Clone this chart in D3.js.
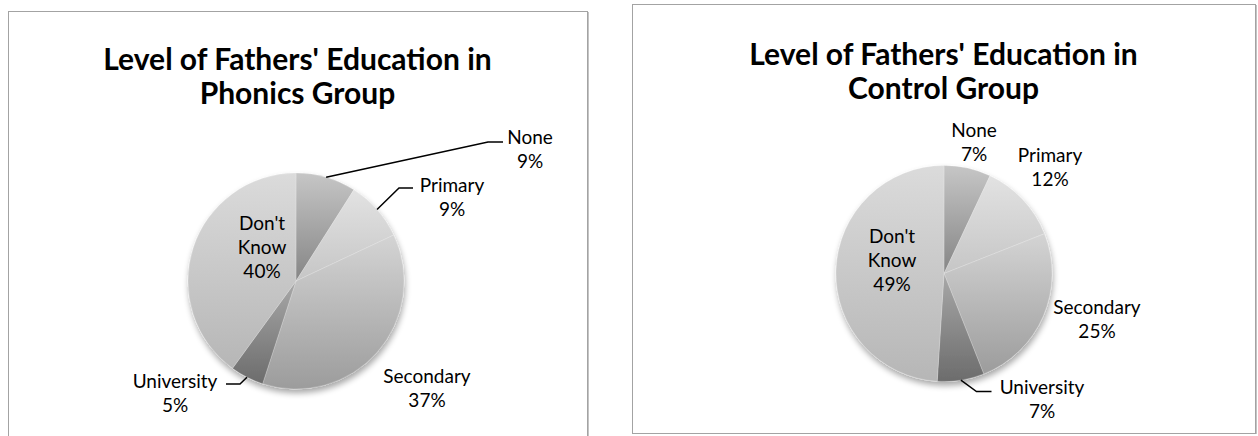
<!DOCTYPE html>
<html>
<head>
<meta charset="utf-8">
<script src="https://cdn.jsdelivr.net/npm/d3@7"></script>
<style>
  html, body { margin: 0; padding: 0; background: #fff; }
  svg { display: block; }
  text { font-family: Lato, "Open Sans", sans-serif; fill: #000; }
</style>
</head>
<body>
<svg id="chart" width="1258" height="436"></svg>
<script>
// ---- data ----
const categories = ["None", "Primary", "Secondary", "University", "Don't Know"];
const phonicsValues = [9, 9, 37, 5, 40];
const controlValues = [7, 12, 25, 7, 49];
const phonicsTitle = ["Level of Fathers' Education in", "Phonics Group"];
const controlTitle = ["Level of Fathers' Education in", "Control Group"];

// ---- styles ----
const gradTop = ["#c6c6c6", "#e2e2e2", "#d4d4d4", "#a8a8a8", "#dbdbdb"];
const gradBot = ["#858585", "#c6c6c6", "#9c9c9c", "#6c6c6c", "#b6b6b6"];

const svg = d3.select("#chart");
const defs = svg.append("defs");

const shadow = defs.append("filter").attr("id", "shadow")
  .attr("x", "-20%").attr("y", "-20%").attr("width", "140%").attr("height", "140%");
shadow.append("feGaussianBlur").attr("in", "SourceAlpha").attr("stdDeviation", 3).attr("result", "b");
shadow.append("feOffset").attr("in", "b").attr("dx", 1).attr("dy", 4).attr("result", "o");
shadow.append("feComponentTransfer").attr("in", "o").attr("result", "s")
  .append("feFuncA").attr("type", "linear").attr("slope", 0.35);
const m = shadow.append("feMerge");
m.append("feMergeNode").attr("in", "s");
m.append("feMergeNode").attr("in", "SourceGraphic");

categories.forEach((c, i) => {
  const g = defs.append("linearGradient").attr("id", "g" + i)
    .attr("x1", 0).attr("y1", 0).attr("x2", 0).attr("y2", 1);
  g.append("stop").attr("offset", "0%").attr("stop-color", gradTop[i]);
  g.append("stop").attr("offset", "100%").attr("stop-color", gradBot[i]);
});

function drawPanel(cfg) {
  const p = svg.append("g");
  // frame
  p.append("rect")
    .attr("x", cfg.frame[0] + 0.5).attr("y", cfg.frame[1] + 0.5)
    .attr("width", cfg.frame[2]).attr("height", cfg.frame[3])
    .attr("fill", "#fff").attr("stroke", "#a3a3a3").attr("stroke-width", 1);
  p.append("line")
    .attr("x1", cfg.frame[0] + cfg.frame[2] + 1.5).attr("x2", cfg.frame[0] + cfg.frame[2] + 1.5)
    .attr("y1", cfg.frame[1] + 1).attr("y2", cfg.frame[1] + cfg.frame[3] + 1)
    .attr("stroke", "#c4c4c4").attr("stroke-width", 1);

  // title
  const tcx = cfg.frame[0] + cfg.frame[2] / 2;
  const t = p.append("text").attr("text-anchor", "middle")
    .style("font-weight", "bold").style("font-size", "30px");
  cfg.title.forEach((line, k) => {
    t.append("tspan").attr("x", tcx).attr("y", cfg.titleY + k * 34).text(line);
  });

  // pie
  const pie = d3.pie().sort(null).startAngle(0).endAngle(2 * Math.PI)(cfg.values);
  const arc = d3.arc().innerRadius(0).outerRadius(cfg.r);
  const pg = p.append("g").attr("transform", `translate(${cfg.cx},${cfg.cy})`);
  const slices = pg.append("g").attr("filter", "url(#shadow)");
  slices.selectAll("path").data(pie).join("path")
    .attr("d", arc)
    .attr("fill", (d, i) => `url(#g${i})`)
    .attr("stroke", "rgba(255,255,255,0.35)")
    .attr("stroke-width", 0.6);

  // labels
  pie.forEach((d, i) => {
    const L = cfg.labels[i];
    const lines = categories[i] === "Don't Know" ? ["Don't", "Know"] : [categories[i]];
    lines.push(d.data + "%");
    const tx = pg.append("text").attr("text-anchor", "middle").style("font-size", "19px");
    lines.forEach((s, k) => {
      tx.append("tspan").attr("x", L.x - cfg.cx).attr("y", L.y - cfg.cy + k * 24).text(s);
    });
    if (L.leader) {
      const a = (d.startAngle + d.endAngle) / 2;
      const sx = Math.sin(a) * cfg.r, sy = -Math.cos(a) * cfg.r;
      const pts = [[sx, sy]].concat(L.leader.map(q => [q[0] - cfg.cx, q[1] - cfg.cy]));
      pg.append("path").attr("d", d3.line()(pts))
        .attr("fill", "none").attr("stroke", "#000").attr("stroke-width", 1.5);
    }
  });
}

drawPanel({
  frame: [8, 11, 579, 500],
  title: phonicsTitle, titleY: 70,
  values: phonicsValues, cx: 296, cy: 281, r: 108,
  labels: [
    { x: 530, y: 144, leader: [[488, 142], [503, 142]] },
    { x: 452, y: 192, leader: [[399, 188], [413, 188]] },
    { x: 427, y: 383 },
    { x: 175, y: 388, leader: [[240, 384], [226, 384]] },
    { x: 262, y: 230 }
  ]
});

drawPanel({
  frame: [632, 4, 623, 429],
  title: controlTitle, titleY: 65,
  values: controlValues, cx: 944, cy: 273.5, r: 108,
  labels: [
    { x: 974, y: 137 },
    { x: 1050, y: 161.5 },
    { x: 1097, y: 314 },
    { x: 1042, y: 393.5, leader: [[976.5, 391.5], [991.5, 391.5]] },
    { x: 892, y: 243 }
  ]
});
</script>
</body>
</html>
